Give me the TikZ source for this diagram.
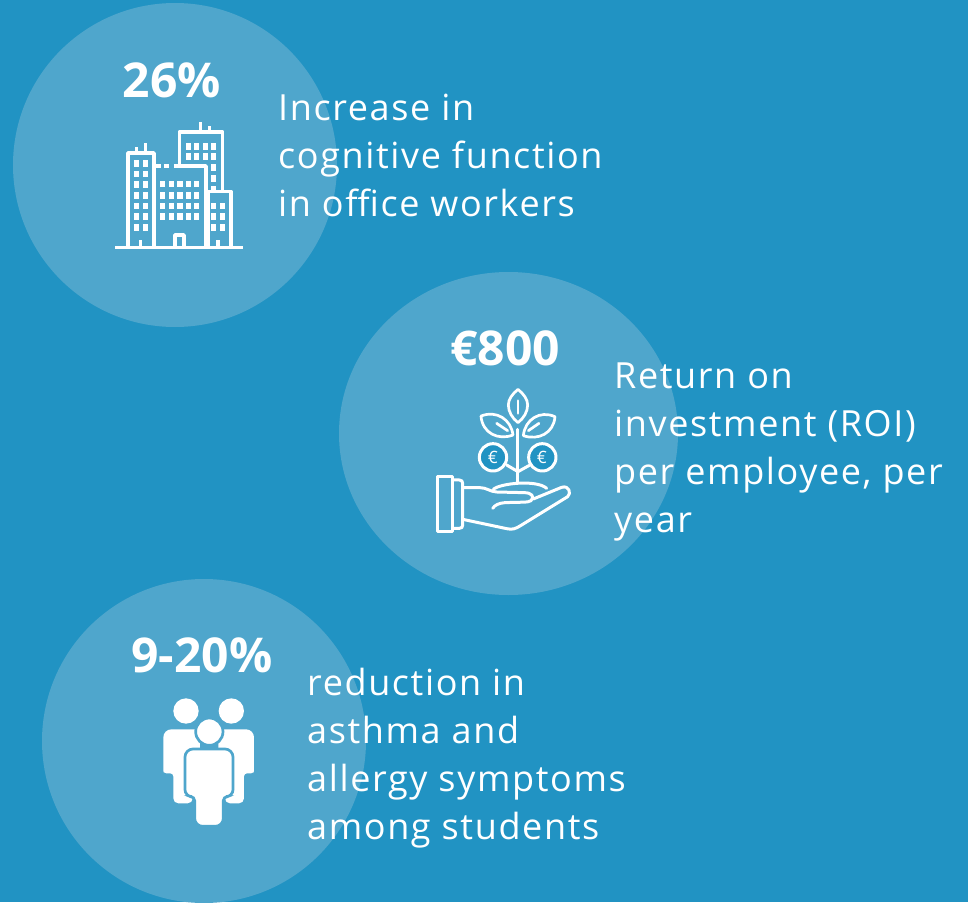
\documentclass[tikz,border=0pt]{standalone}
\usepackage{fontspec}
\setmainfont{Open Sans}
\newfontfamily\bodyfont[LetterSpace=4.5]{Open Sans}
\definecolor{bgblue}{HTML}{2193C3}
\definecolor{discblue}{HTML}{4FA6CC}
\tikzset{
 disc/.style={fill=discblue,draw=none},
 bodytext/.style={text=white,anchor=base west,inner sep=0pt,font=\fontsize{36}{48}\bodyfont},
 figure/.style={text=white,anchor=base,inner sep=0pt,font=\fontsize{48}{48}\selectfont\bfseries},
 ln/.style={draw=white,line width=3.6pt,line join=round,fill=none},
 win/.style={fill=white,draw=none},
}
\begin{document}
\begin{tikzpicture}[x=1pt,y=-1pt]
\useasboundingbox (0,0) rectangle (968,902);
\fill[bgblue] (0,0) rectangle (968,902);
\fill[disc] (175,165) circle (162);
\fill[disc] (508.5,433.5) ellipse [x radius=169.5,y radius=161.5];
\fill[disc] (204,741) circle (162);
\node[figure] (f1) at (172,97) {26\%};
\node[figure] (f2) at (505,365) {€800};
\node[figure] (f3) at (202,672) {9-20\%};
\node[bodytext] (t1a) at (278,120) {Increase in};
\node[bodytext] (t1b) at (278,168) {cognitive function};
\node[bodytext] (t1c) at (278,216) {in office workers};
\node[bodytext] (t2a) at (614,388) {Return on};
\node[bodytext] (t2b) at (614,436) {investment (ROI)};
\node[bodytext] (t2c) at (614,484) {per employee, per};
\node[bodytext] (t2d) at (614,532) {year};
\node[bodytext] (t3a) at (307,695) {reduction in};
\node[bodytext] (t3b) at (307,743) {asthma and};
\node[bodytext] (t3c) at (307,791) {allergy symptoms};
\node[bodytext] (t3d) at (307,839) {among students};
% buildings
\begin{scope}[shift={(100,110)},x=0.3333pt,y=-0.3333pt]
\draw[ln] (46,413) -- (430,413);
\draw[ln] (84,413) -- (84,129) -- (162,129) -- (162,413);
\draw[ln] (110,129) -- (110,112) (136,129) -- (136,100) (122,413) -- (122,390);
\draw[ln] (162,168) -- (182,168) (192,168) -- (207,168) (222,168) -- (318,168) -- (318,413);
\draw[ln] (225,413) -- (225,375) -- (252,375) -- (252,413);
\draw[ln] (238,168) -- (238,66) -- (368,66) -- (368,245);
\draw[ln] (302,66) -- (302,36) (328,66) -- (328,48);
\draw[ln] (325,413) -- (325,245) -- (393,245) -- (393,413);
\draw[ln] (354,413) -- (354,390);
\foreach \y in {150,182,214,246,278,310,342} \foreach \x in {102,128} \fill[win] (\x,\y) rectangle +(16,20);
\foreach \y in {212,246,278,310} \foreach \x in {180,207,232,258,282} \fill[win] (\x,\y) rectangle +(16,20);
\foreach \y in {98,130} \foreach \x in {258,282,308,334} \fill[win] (\x,\y) rectangle +(15,21);
\fill[win] (334,162) rectangle +(15,21);
\fill[win] (334,195) rectangle +(15,21);
\fill[win] (334,228) rectangle +(15,12);
\foreach \y in {278,310,342} \foreach \x in {334,360} \fill[win] (\x,\y) rectangle +(15,20);
\end{scope}
% plant and hand
\begin{scope}[shift={(425,380)},x=0.3333pt,y=-0.3333pt]
\tikzset{ln/.append style={line cap=round,line width=3pt}}
\draw[ln] (37,290) rectangle (83,455);
\draw[ln] (83,300) -- (103,300) .. controls (110,300) and (113,304) .. (113,310) -- (113,435) .. controls (113,442) and (110,445) .. (103,445) -- (83,445);
\draw[ln] (113,323) -- (165,323) .. controls (185,323) and (195,335) .. (215,336) -- (298,338) .. controls (320,338) and (330,350) .. (318,362) .. controls (310,368) and (290,366) .. (240,368) .. controls (222,369) and (210,375) .. (203,385);
\draw[ln] (113,418) -- (245,446) .. controls (262,450) and (272,446) .. (285,438) -- (428,350) .. controls (440,340) and (432,315) .. (410,322) -- (325,357);
\draw[ln] (205,328) .. controls (225,310) and (335,298) .. (365,325);
\draw[ln] (279,148) -- (279,305);
\draw[ln] (279,275) -- (245,255) (279,275) -- (315,255);
\draw[ln,fill=bgblue] (204,232) circle (41);
\draw[ln,fill=bgblue] (352,232) circle (41);
\node[text=white,inner sep=0pt,font=\fontsize{17}{17}\selectfont] (e1) at (204,232) {€};
\node[text=white,inner sep=0pt,font=\fontsize{17}{17}\selectfont] (e2) at (351,232) {€};
\draw[ln,line width=2.7pt] (279,28) .. controls (262,42) and (250,58) .. (250,75) .. controls (250,95) and (262,115) .. (279,128) .. controls (296,115) and (308,95) .. (308,75) .. controls (308,58) and (296,42) .. (279,28);
\draw[ln,line width=2.7pt] (279,62) -- (279,100);
\draw[ln,line width=2.7pt] (168,108) .. controls (215,90) and (258,118) .. (264,165) .. controls (220,182) and (172,160) .. (168,108);
\draw[ln,line width=2.7pt] (215,130) -- (248,152);
\draw[ln,line width=2.7pt] (390,110) .. controls (345,90) and (300,118) .. (295,167) .. controls (340,182) and (386,160) .. (390,110);
\draw[ln,line width=2.7pt] (342,130) -- (310,152);
\end{scope}
% people
\begin{scope}[shift={(150,685)},x=0.3333pt,y=-0.3333pt]
\fill[white] (108,78) circle (38);
\fill[white] (244,78) circle (38);
\fill[white] (100,133) [rounded corners=8pt] -- (40,133) -- (40,240) [rounded corners=3pt] -- (40,265) -- (70,265) -- (70,320) [rounded corners=5pt] -- (70,355) -- (128,355) -- (128,300) [rounded corners=0pt] -- (150,265) -- (150,133) -- cycle;
\fill[white] (250,133) [rounded corners=8pt] -- (312,133) -- (312,240) [rounded corners=3pt] -- (312,265) -- (282,265) -- (282,320) [rounded corners=5pt] -- (282,355) -- (225,355) -- (225,300) [rounded corners=0pt] -- (205,265) -- (205,133) -- cycle;
\fill[white,draw=discblue,line width=2.7pt] (178,140) circle (41);
\fill[white,draw=discblue,line width=2.7pt] (177,192) [rounded corners=8pt] -- (249,192) -- (249,290) [rounded corners=7pt] -- (249,335) [rounded corners=4pt] -- (220,335) -- (220,380) [rounded corners=8pt] -- (220,424) -- (134,424) -- (134,380) [rounded corners=4pt] -- (134,335) [rounded corners=7pt] -- (105,335) -- (105,290) [rounded corners=8pt] -- (105,192) -- cycle;
\end{scope}
\end{tikzpicture}
\end{document}
